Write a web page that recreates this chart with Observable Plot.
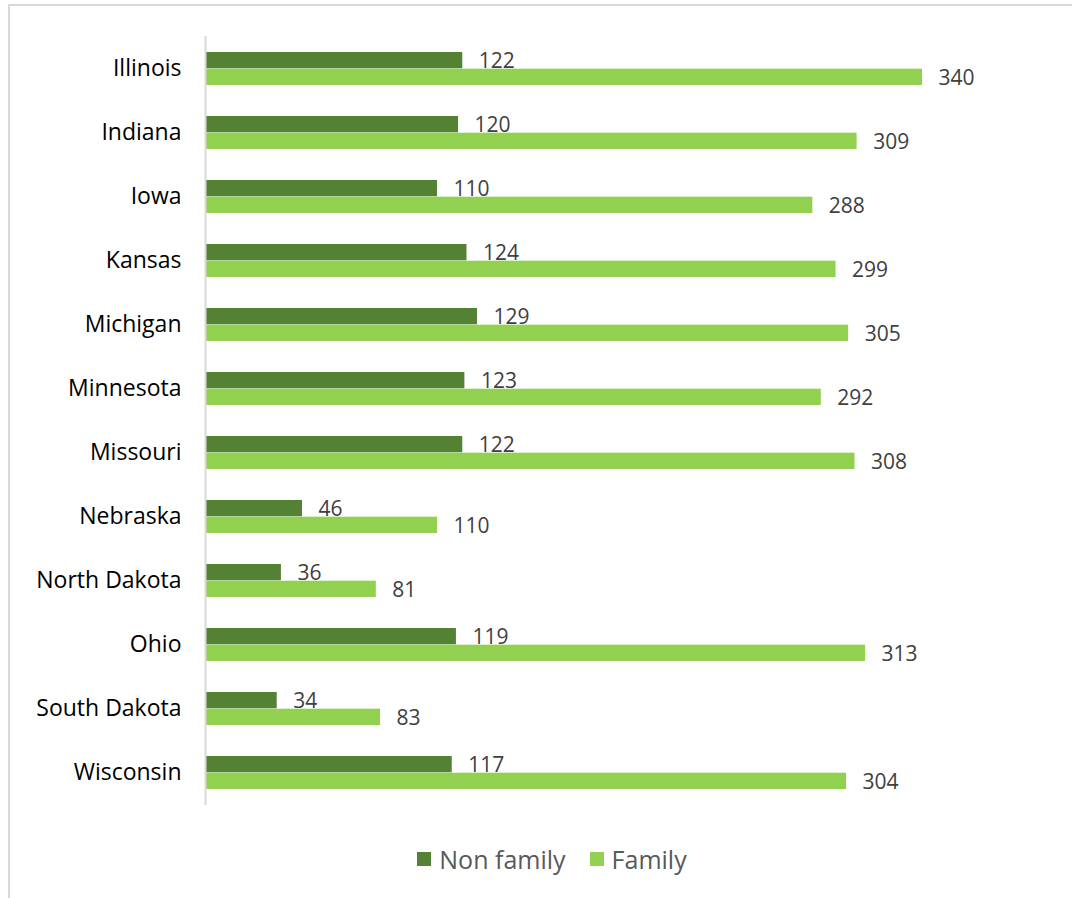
<!DOCTYPE html>
<html>
<head>
<meta charset="utf-8">
<script src="https://cdn.jsdelivr.net/npm/d3@7"></script>
<script src="https://cdn.jsdelivr.net/npm/@observablehq/plot@0.6"></script>
<style>
  html, body { margin: 0; padding: 0; background: #fff; }
  body { width: 1072px; height: 898px; position: relative; overflow: hidden; font-family: "Open Sans", sans-serif; }
  #frame { position: absolute; left: 8px; top: 4px; width: 1200px; height: 1000px; border: 2px solid #d9d9d9; box-sizing: border-box; }
  #chart { position: absolute; left: 0; top: 0; }
  #legend { position: absolute; left: 0; top: 835px; width: 1072px; height: 63px; display: flex; justify-content: center; align-items: flex-start; gap: 24px; padding-top: 7px; padding-left: 32px; box-sizing: border-box; font-size: 25px; color: #595959; }
  .item { display: flex; align-items: center; gap: 8px; }
  .sw { width: 14px; height: 14px; display: inline-block; }
</style>
</head>
<body>
<div id="frame"></div>
<div id="chart"></div>
<div id="legend"></div>
<script>
const states = ["Illinois","Indiana","Iowa","Kansas","Michigan","Minnesota","Missouri","Nebraska","North Dakota","Ohio","South Dakota","Wisconsin"];
const nonFamily = [122,120,110,124,129,123,122,46,36,119,34,117];
const family = [340,309,288,299,305,292,308,110,81,313,83,304];
const seriesNames = ["Non family","Family"];
const colors = ["#548235","#92d050"];

const rowsNF = states.map((s,i)=>({state:s, value:nonFamily[i]}));
const rowsF = states.map((s,i)=>({state:s, value:family[i]}));

const half = 16.7;
const chart = Plot.plot({
  width: 1072,
  height: 835,
  marginLeft: 205,
  marginRight: 150,
  marginTop: 36,
  marginBottom: 30,
  style: {fontFamily: "Open Sans, sans-serif", background: "transparent"},
  x: {domain: [0, 340], axis: null},
  y: {domain: states, paddingInner: 0.48, paddingOuter: 0.24, align: 0.5, label: null},
  axis: null,
  marks: [
    Plot.axisY({tickSize: 0, tickPadding: 24, fontSize: 23, color: "#000", label: null}),
    Plot.barX(rowsNF, {x: "value", y: "state", fill: colors[0], insetBottom: half}),
    Plot.barX(rowsF, {x: "value", y: "state", fill: colors[1], insetTop: half}),
    Plot.ruleX([0], {stroke: "#d9d9d9", strokeWidth: 2}),
    Plot.text(rowsNF, {x: "value", y: "state", text: d => String(d.value), dx: 16, dy: -8, textAnchor: "start", fontSize: 21, fill: "#404040"}),
    Plot.text(rowsF, {x: "value", y: "state", text: d => String(d.value), dx: 16, dy: 9, textAnchor: "start", fontSize: 21, fill: "#404040"})
  ]
});
document.getElementById("chart").appendChild(chart);

const legend = document.getElementById("legend");
seriesNames.forEach((n,i)=>{
  const it = document.createElement("span");
  it.className = "item";
  const sw = document.createElement("span");
  sw.className = "sw";
  sw.style.background = colors[i];
  const t = document.createElement("span");
  t.textContent = n;
  it.appendChild(sw); it.appendChild(t);
  legend.appendChild(it);
});
</script>
</body>
</html>
